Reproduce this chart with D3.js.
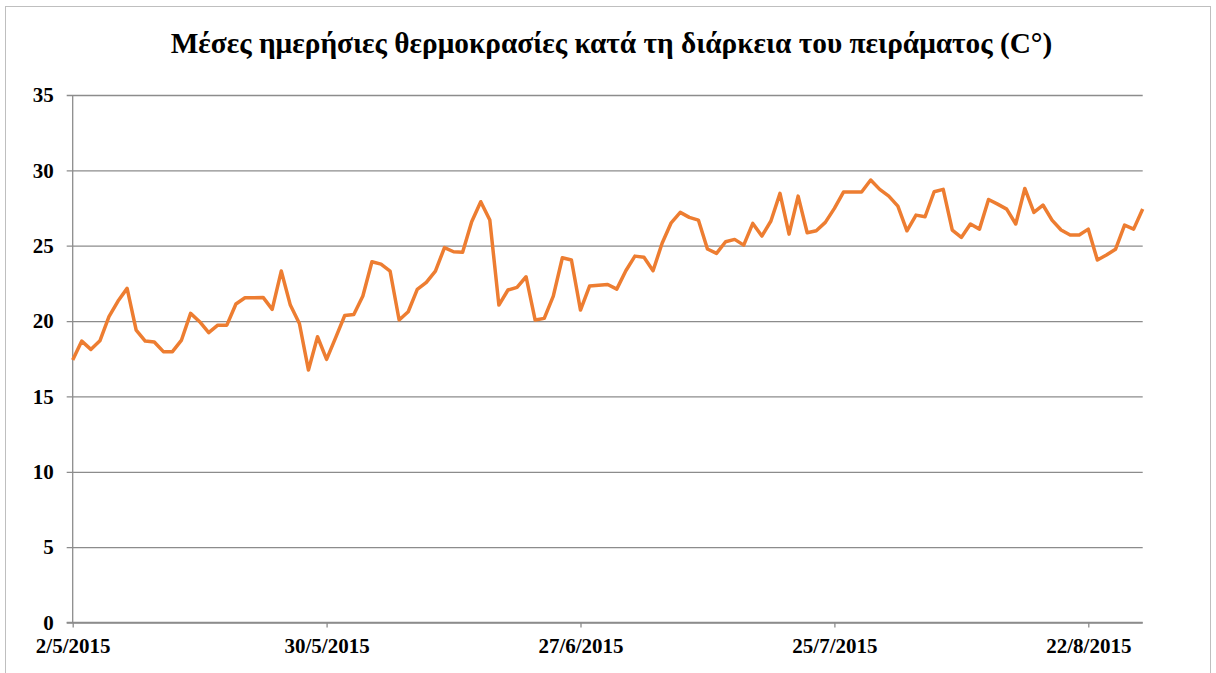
<!DOCTYPE html>
<html lang="el">
  <head>
    <meta charset="utf-8">
    <script src="https://d3js.org/d3.v7.min.js"></script>
    <style>
      body { margin: 0; background: #fff; }
      svg text { font-family: "Liberation Serif", "Times New Roman", serif; font-weight: bold; fill: #000; }
    </style>
  </head>
  <body>
    <svg width="1216" height="673"></svg>
    <script>
      // Data: one mean daily temperature per day, starting on 2/5/2015
      var startDate = "2/5/2015";
      var temps = [
        17.41, 18.67, 18.12, 18.69, 20.29, 21.33, 22.17, 19.40, 18.67, 18.61,
        17.97, 17.97, 18.74, 20.51, 19.96, 19.23, 19.73, 19.73, 21.13, 21.55,
        21.55, 21.57, 20.78, 23.32, 21.06, 19.84, 16.75, 18.96, 17.46, 18.90,
        20.37, 20.44, 21.66, 23.94, 23.78, 23.32, 20.07, 20.62, 22.10, 22.57,
        23.32, 24.87, 24.60, 24.56, 26.59, 27.92, 26.70, 21.06, 22.06, 22.24,
        22.94, 20.07, 20.18, 21.66, 24.20, 24.05, 20.73, 22.32, 22.37, 22.43,
        22.12, 23.34, 24.31, 24.23, 23.34, 25.16, 26.52, 27.21, 26.88, 26.70,
        24.78, 24.49, 25.26, 25.42, 25.04, 26.48, 25.64, 26.64, 28.47, 25.77,
        28.29, 25.86, 25.99, 26.55, 27.48, 28.56, 28.56, 28.56, 29.36, 28.74,
        28.29, 27.63, 25.99, 27.03, 26.92, 28.58, 28.74, 26.04, 25.55, 26.44,
        26.10, 28.07, 27.76, 27.43, 26.44, 28.80, 27.21, 27.70, 26.70, 26.04,
        25.71, 25.71, 26.10, 24.05, 24.38, 24.76, 26.37, 26.10, 27.43
      ];
      var xTickLabels = ["2/5/2015", "30/5/2015", "27/6/2015", "25/7/2015", "22/8/2015"];
      var yTicks = [0, 5, 10, 15, 20, 25, 30, 35];
      var title = "Μέσες ημερήσιες θερμοκρασίες κατά τη διάρκεια του πειράματος (C°)";

      var parseDate = d3.utcParse("%d/%m/%Y");
      var start = parseDate(startDate);
      var data = temps.map(function(t, i) {
        return { date: d3.utcDay.offset(start, i), temp: t };
      });

      var svg = d3.select("svg");
      var margin = { left: 72.7, right: 1142.7, top: 95, bottom: 622.5 };

      // chart area border
      svg.append("rect")
        .attr("x", 5.5)
        .attr("y", 6.5)
        .attr("width", 1205)
        .attr("height", 700)
        .attr("fill", "#fff")
        .attr("stroke", "#bfbfbf")
        .attr("stroke-width", 1);

      var x = d3.scaleUtc()
        .domain(d3.extent(data, function(d) { return d.date; }))
        .range([margin.left, margin.right]);

      var y = d3.scaleLinear()
        .domain([0, 35])
        .range([margin.bottom, margin.top]);

      // horizontal gridlines + y axis
      var yAxis = d3.axisLeft(y)
        .tickValues(yTicks)
        .tickSize(-(margin.right - margin.left))
        .tickPadding(14)
        .tickFormat(d3.format("d"));

      var gy = svg.append("g")
        .attr("transform", "translate(" + margin.left + ",0)")
        .attr("font-family", null)
        .call(yAxis);
      gy.select(".domain").remove();
      gy.selectAll(".tick line")
        .attr("x1", -6)
        .attr("stroke", "#8c8c8c")
        .attr("stroke-width", 1.3);
      gy.selectAll(".tick text")
        .attr("x", -19)
        .style("font-size", "21px");

      // vertical axis line
      svg.append("line")
        .attr("x1", margin.left).attr("x2", margin.left)
        .attr("y1", margin.top).attr("y2", margin.bottom)
        .attr("stroke", "#8c8c8c")
        .attr("stroke-width", 1.3);

      // x axis
      var xAxis = d3.axisBottom(x)
        .tickValues(xTickLabels.map(parseDate))
        .tickSize(5)
        .tickPadding(11)
        .tickFormat(d3.utcFormat("%-d/%-m/%Y"));

      var gx = svg.append("g")
        .attr("transform", "translate(0," + margin.bottom + ")")
        .call(xAxis);
      gx.select(".domain")
        .attr("stroke", "#8c8c8c")
        .attr("stroke-width", 1.3)
        .attr("d", "M" + (margin.left - 6) + ",0H" + margin.right);
      gx.selectAll(".tick line")
        .attr("stroke", "#8c8c8c")
        .attr("stroke-width", 1.3);
      gx.selectAll(".tick text")
        .style("font-size", "21px");

      // the temperature line
      var line = d3.line()
        .x(function(d) { return x(d.date); })
        .y(function(d) { return y(d.temp); });

      svg.append("path")
        .datum(data)
        .attr("fill", "none")
        .attr("stroke", "#ed7d31")
        .attr("stroke-width", 3.5)
        .attr("stroke-linejoin", "round")
        .attr("d", line);

      // title
      svg.append("text")
        .attr("x", 611.5)
        .attr("y", 53)
        .attr("text-anchor", "middle")
        .style("font-size", "29.3px")
        .text(title);
    </script>
  </body>
</html>
